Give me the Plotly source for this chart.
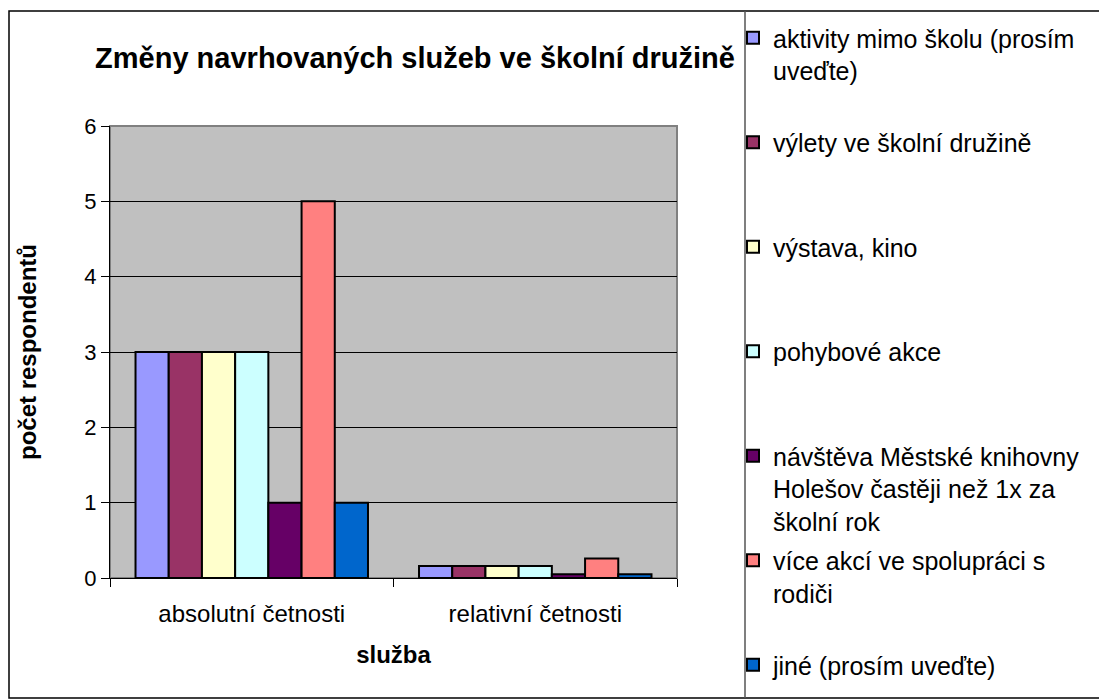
import plotly.graph_objects as go

categories = ["absolutní četnosti", "relativní četnosti"]
series_names = [
    "aktivity mimo školu (prosím<br>uveďte)",
    "výlety ve školní družině",
    "výstava, kino",
    "pohybové akce",
    "návštěva Městské knihovny<br>Holešov častěji než 1x za<br>školní rok",
    "více akcí ve spolupráci s<br>rodiči",
    "jiné (prosím uveďte)",
]
abs_values = [3, 3, 3, 3, 1, 5, 1]
rel_values = [0.16, 0.16, 0.16, 0.16, 0.05, 0.26, 0.05]
colors = ["#9999FF", "#993366", "#FFFFCC", "#CCFFFF", "#660066", "#FF8080", "#0066CC"]
y_ticks = [0, 1, 2, 3, 4, 5, 6]

FONT = "Arial, 'Liberation Sans', sans-serif"

W, H = 1099, 699
L, R, T, B = 110, 422, 126, 121
pw, ph = W - L - R, H - T - B


def px_to_paper_x(px):
    return (px - L) / pw


def px_to_paper_y(py):
    return (H - B - py) / ph


fig = go.Figure()
n = len(series_names)
for i, name in enumerate(series_names):
    nlines = name.count("<br>") + 1
    padded = name + ("<br>\u00a0" * (3 - nlines) if i < n - 1 else "")
    fig.add_trace(go.Bar(
        x=categories,
        y=[abs_values[i], rel_values[i]],
        name=padded,
        legendgroup=f"g{i}",
        marker=dict(color=colors[i], line=dict(color="black", width=2)),
    ))

fig.update_layout(
    width=W, height=H,
    margin=dict(l=L, r=R, t=T, b=B),
    paper_bgcolor="white",
    plot_bgcolor="#C0C0C0",
    barmode="group",
    bargap=0.18,
    bargroupgap=0,
    font=dict(family=FONT, color="black", size=22),
    title=dict(
        text="<b>Změny navrhovaných služeb ve školní družině</b>",
        font=dict(size=29, family=FONT, color="black"),
        x=px_to_paper_x(415), xref="paper", xanchor="center",
        y=1 - 58 / H, yref="container", yanchor="middle",
    ),
    legend=dict(
        x=px_to_paper_x(733), xanchor="left",
        y=px_to_paper_y(15), yanchor="top",
        font=dict(size=25, family=FONT, color="black"),
        valign="top",
        tracegroupgap=4,
        maxheight=900,
        bgcolor="rgba(0,0,0,0)",
        traceorder="grouped",
    ),
    xaxis=dict(
        showline=True, linecolor="black", linewidth=1,
        ticks="outside", tickson="boundaries", ticklen=8, tickcolor="black",
        tickfont=dict(size=24),
        ticklabelstandoff=14,
        title=dict(text="<b>služba</b>", font=dict(size=24), standoff=20),
        showgrid=False,
    ),
    yaxis=dict(
        range=[0, 6], tickvals=y_ticks,
        showline=True, linecolor="black", linewidth=1,
        ticks="outside", ticklen=8, tickcolor="black",
        tickfont=dict(size=22),
        showgrid=True, gridcolor="black", gridwidth=1,
        zeroline=False,
        title=dict(text="<b>počet respondentů</b>", font=dict(size=24), standoff=40),
    ),
    shapes=[
        dict(type="rect", xref="paper", yref="paper",
             x0=px_to_paper_x(9), x1=px_to_paper_x(1100),
             y0=px_to_paper_y(698), y1=px_to_paper_y(11),
             line=dict(color="black", width=1.5), layer="below"),
        dict(type="line", xref="paper", yref="paper",
             x0=px_to_paper_x(745), x1=px_to_paper_x(745),
             y0=px_to_paper_y(698), y1=px_to_paper_y(11),
             line=dict(color="#555555", width=1.5)),
        dict(type="rect", xref="paper", yref="paper",
             x0=0, x1=1, y0=0, y1=1,
             line=dict(color="#808080", width=2), layer="below"),
    ],
)

fig.write_html(
    "out.html",
    config={"displayModeBar": False},
    post_script="document.body.style.margin='0';document.body.style.padding='0';",
)
